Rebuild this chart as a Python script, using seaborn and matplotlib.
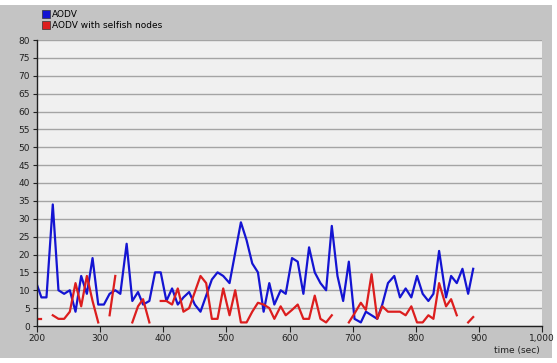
import numpy as np
import pandas as pd
import matplotlib
matplotlib.use("Agg")
import matplotlib.pyplot as plt
from matplotlib.lines import Line2D
import seaborn as sns

# Sample times (sec)
time_sec = [200, 207, 215, 225, 234, 243, 252, 261, 270, 279, 288, 297, 306, 315, 324,
            332, 342, 351, 360, 368, 378, 387, 396, 405, 414, 423, 432, 441, 450, 459,
            468, 477, 486, 495, 505, 514, 523, 532, 541, 550, 559, 568, 576, 586, 594,
            604, 613, 622, 631, 640, 649, 658, 667, 676, 685, 694, 703, 713, 721, 730,
            739, 747, 756, 766, 775, 784, 793, 802, 811, 820, 828, 837, 848, 856, 865,
            874, 883, 891]

aodv = [11.5, 8, 8, 34, 10, 9, 10, 4, 14, 9, 19, 6, 6, 9, 10,
        9, 23, 7, 9.5, 6, 7, 15, 15, 7, 10.5, 6, 8, 9.5, 6, 4,
        8.5, 13, 15, 14, 12, 20.5, 29, 24, 17.5, 15, 4, 12, 6, 10, 9,
        19, 18, 9, 22, 15, 12, 10, 28, 14, 7, 18, 2, 1, 4, 3,
        2, 6, 12, 14, 8, 10.5, 8, 14, 9, 7, 9, 21, 8, 14, 12,
        16, 9, 16]

nan = np.nan
aodv_selfish = [2, 2, nan, 3, 2, 2, 4, 12, 5.5, 14, 7, 1, nan, 3, 14,
                nan, nan, 1, 5.5, 7.5, 1, nan, 7, 7, 6, 10.5, 4, 5, 9.5, 14,
                12, 2, 2, 10.5, 3, 10, 1, 1, 4, 6.5, 6, 5, 2, 5.5, 3,
                4.5, 6, 2, 2, 8.5, 2, 1, 3, nan, nan, 1, 3.5, 6.5, 4.5, 14.5,
                2, 5.5, 4, 4, 4, 3, 5.5, 1, 1, 3, 2, 12, 5.5, 7.5, 3,
                nan, 1, 2.5]

series_names = ["AODV", "AODV with selfish nodes"]
series_colors = {"AODV": "#1414d2", "AODV with selfish nodes": "#dc1e1e"}

x_ticks = [200, 300, 400, 500, 600, 700, 800, 900, 1000]
x_tick_labels = ["200", "300", "400", "500", "600", "700", "800", "900", "1,000"]
y_ticks = list(range(0, 81, 5))


def to_frame(name, values):
    v = np.asarray(values, dtype=float)
    gap = np.isnan(v)
    seg = np.cumsum(gap)  # new segment id after every missing sample
    df = pd.DataFrame({"time": time_sec, "value": v, "series": name,
                       "segment": [f"{name}-{s}" for s in seg]})
    return df[~gap]


data = pd.concat([to_frame(series_names[0], aodv),
                  to_frame(series_names[1], aodv_selfish)], ignore_index=True)

W, H = 557, 363
fig = plt.figure(figsize=(W / 100, H / 100), dpi=100, facecolor="white")

# grey panel behind the chart
bg = fig.add_axes([0, 5 / H, 552 / W, 353 / H], zorder=-5)
bg.set_facecolor("#c4c4c4")
bg.set_xticks([])
bg.set_yticks([])
for s in bg.spines.values():
    s.set_visible(False)

ax = fig.add_axes([37 / W, 1 - 326 / H, (542 - 37) / W, (326 - 40) / H], zorder=1)
ax.set_facecolor("#f0f0f0")

sns.lineplot(data=data, x="time", y="value", hue="series", units="segment",
             estimator=None, palette=series_colors, linewidth=1.6, ax=ax,
             legend=False, sort=False)

ax.set_xlim(200, 1000)
ax.set_ylim(0, 80)
ax.set_xticks(x_ticks)
ax.set_xticklabels(x_tick_labels)
ax.set_yticks(y_ticks)
ax.grid(axis="y", color="#a4a4a4", linewidth=1.0)
ax.grid(axis="x", visible=False)
ax.set_axisbelow(True)
ax.set_xlabel("")
ax.set_ylabel("")

for side in ["top", "right"]:
    ax.spines[side].set_visible(False)
for side in ["left", "bottom"]:
    ax.spines[side].set_color("#202020")
    ax.spines[side].set_linewidth(1.0)

ax.tick_params(axis="both", labelsize=6.5, colors="#202020", length=3, width=0.8, pad=2)
ax.tick_params(axis="x", length=4)

fig.text(540 / W, 1 - 351 / H, "time (sec)", fontsize=6.5, ha="right", va="center",
         color="#202020")

handles = [Line2D([], [], linestyle="none", marker="s", markersize=5.5,
                  markerfacecolor=series_colors[n], markeredgecolor="#333333",
                  markeredgewidth=0.5) for n in series_names]
fig.legend(handles, series_names, loc="upper left", bbox_to_anchor=(42 / W, 1 - 10 / H),
           frameon=False, fontsize=6.5, handlelength=0.8, handletextpad=0.35,
           labelspacing=0.2, borderpad=0, borderaxespad=0)

fig.savefig("out.png", dpi=100, facecolor=fig.get_facecolor())
